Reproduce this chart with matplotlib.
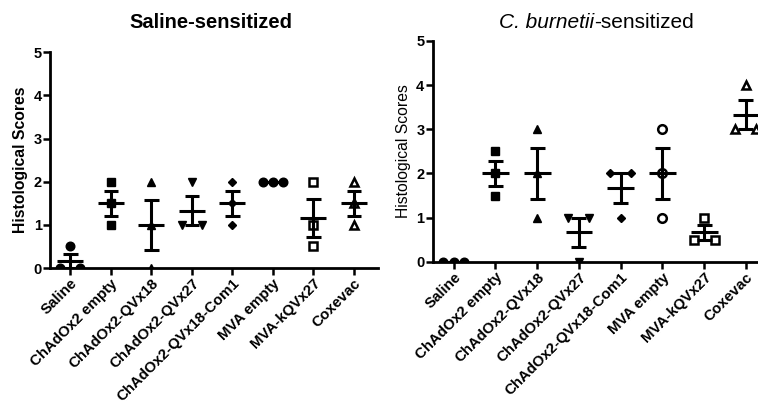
import numpy as np
import matplotlib.pyplot as plt

plt.rcParams["font.family"] = ["Liberation Sans", "DejaVu Sans"]

groups = ["Saline", "ChAdOx2 empty", "ChAdOx2-QVx18", "ChAdOx2-QVx27",
          "ChAdOx2-QVx18-Com1", "MVA empty", "MVA-kQVx27", "Coxevac"]

# histological scores per animal
saline_sens = [
    [0, 0.5, 0],
    [1, 1.5, 2],
    [0, 1, 2],
    [1, 2, 1],
    [1, 1.5, 2],
    [2, 2, 2],
    [0.5, 1, 2],
    [1, 1.5, 2],
]
burnetii_sens = [
    [0, 0, 0],
    [1.5, 2, 2.5],
    [1, 2, 3],
    [1, 0, 1],
    [2, 1, 2],
    [1, 2, 3],
    [0.5, 1, 0.5],
    [3, 4, 3],
]

markers_left = ["o", "s", "^", "v", "D", "o", "s", "^"]
filled_left = [True, True, True, True, True, True, False, False]
markers_right = ["o", "s", "^", "v", "D", "o", "s", "^"]
filled_right = [True, True, True, True, True, False, False, False]


def spread(vals, width=0.5):
    """x offsets so that equal values sit side by side"""
    vals = np.asarray(vals, dtype=float)
    off = np.zeros(len(vals))
    for v in np.unique(vals):
        idx = np.where(vals == v)[0]
        if len(idx) > 1:
            off[idx] = np.linspace(-width / 2, width / 2, len(idx))
    return off


def scatter_panel(ax, data, markers, filled, bold_label, xmax):
    for i, vals in enumerate(data):
        vals = np.asarray(vals, dtype=float)
        x = i + spread(vals)
        mk = markers[i]
        ms = {"o": 6.2, "s": 5.4, "^": 6.4, "v": 6.4, "D": 4.2}[mk]
        ax.plot(x, vals, linestyle="none", marker=mk, markersize=ms,
                markerfacecolor="black" if filled[i] else "white",
                markeredgecolor="black",
                markeredgewidth=1.0 if filled[i] else 1.8, zorder=3)
        m = vals.mean()
        sem = vals.std(ddof=1) / np.sqrt(len(vals))
        ax.hlines(m, i - 0.32, i + 0.32, color="black", lw=2.2, zorder=4)
        ax.vlines(i, m - sem, m + sem, color="black", lw=2.2, zorder=4)
        ax.hlines([m - sem, m + sem], i - 0.18, i + 0.18, color="black",
                  lw=2.2, zorder=4)

    ax.set_xlim(-0.5, xmax)
    ax.set_ylim(0, 5)
    ax.set_yticks(range(6))
    ax.set_xticks(range(len(groups)))
    ax.set_xticklabels(groups, rotation=45, ha="right", rotation_mode="anchor",
                       fontsize=10.8, fontweight="bold")
    for lab in ax.get_yticklabels():
        lab.set_fontweight("bold")
        lab.set_fontsize(10.5)
    ax.tick_params(axis="both", width=1.8, length=5, pad=1)
    ax.spines["top"].set_visible(False)
    ax.spines["right"].set_visible(False)
    ax.spines["left"].set_linewidth(2)
    ax.spines["bottom"].set_linewidth(2)
    ax.set_ylabel("Histological Scores", fontsize=11.3,
                  fontweight="bold" if bold_label else "normal", labelpad=4)


fig = plt.figure(figsize=(7.58, 4.08), dpi=100)

ax1 = fig.add_axes([0.066, 0.343, 0.433, 0.529])
scatter_panel(ax1, saline_sens, markers_left, filled_left, True, 7.6)

ax2 = fig.add_axes([0.571, 0.358, 0.429, 0.542])
scatter_panel(ax2, burnetii_sens, markers_right, filled_right, False, 7.29)

fig.text(211 / 758, 1 - 22 / 408, "Saline-sensitized", fontsize=14.5,
         fontweight="bold", ha="center", va="center")
# title split in two pieces: italic species name, then the rest
split_x = 594 / 758
fig.text(split_x, 1 - 22 / 408, "C. burnetii", fontsize=15, style="italic",
         ha="right", va="center")
fig.text(split_x, 1 - 22 / 408, "-sensitized", fontsize=15,
         ha="left", va="center")

plt.savefig("out.png", dpi=100)
